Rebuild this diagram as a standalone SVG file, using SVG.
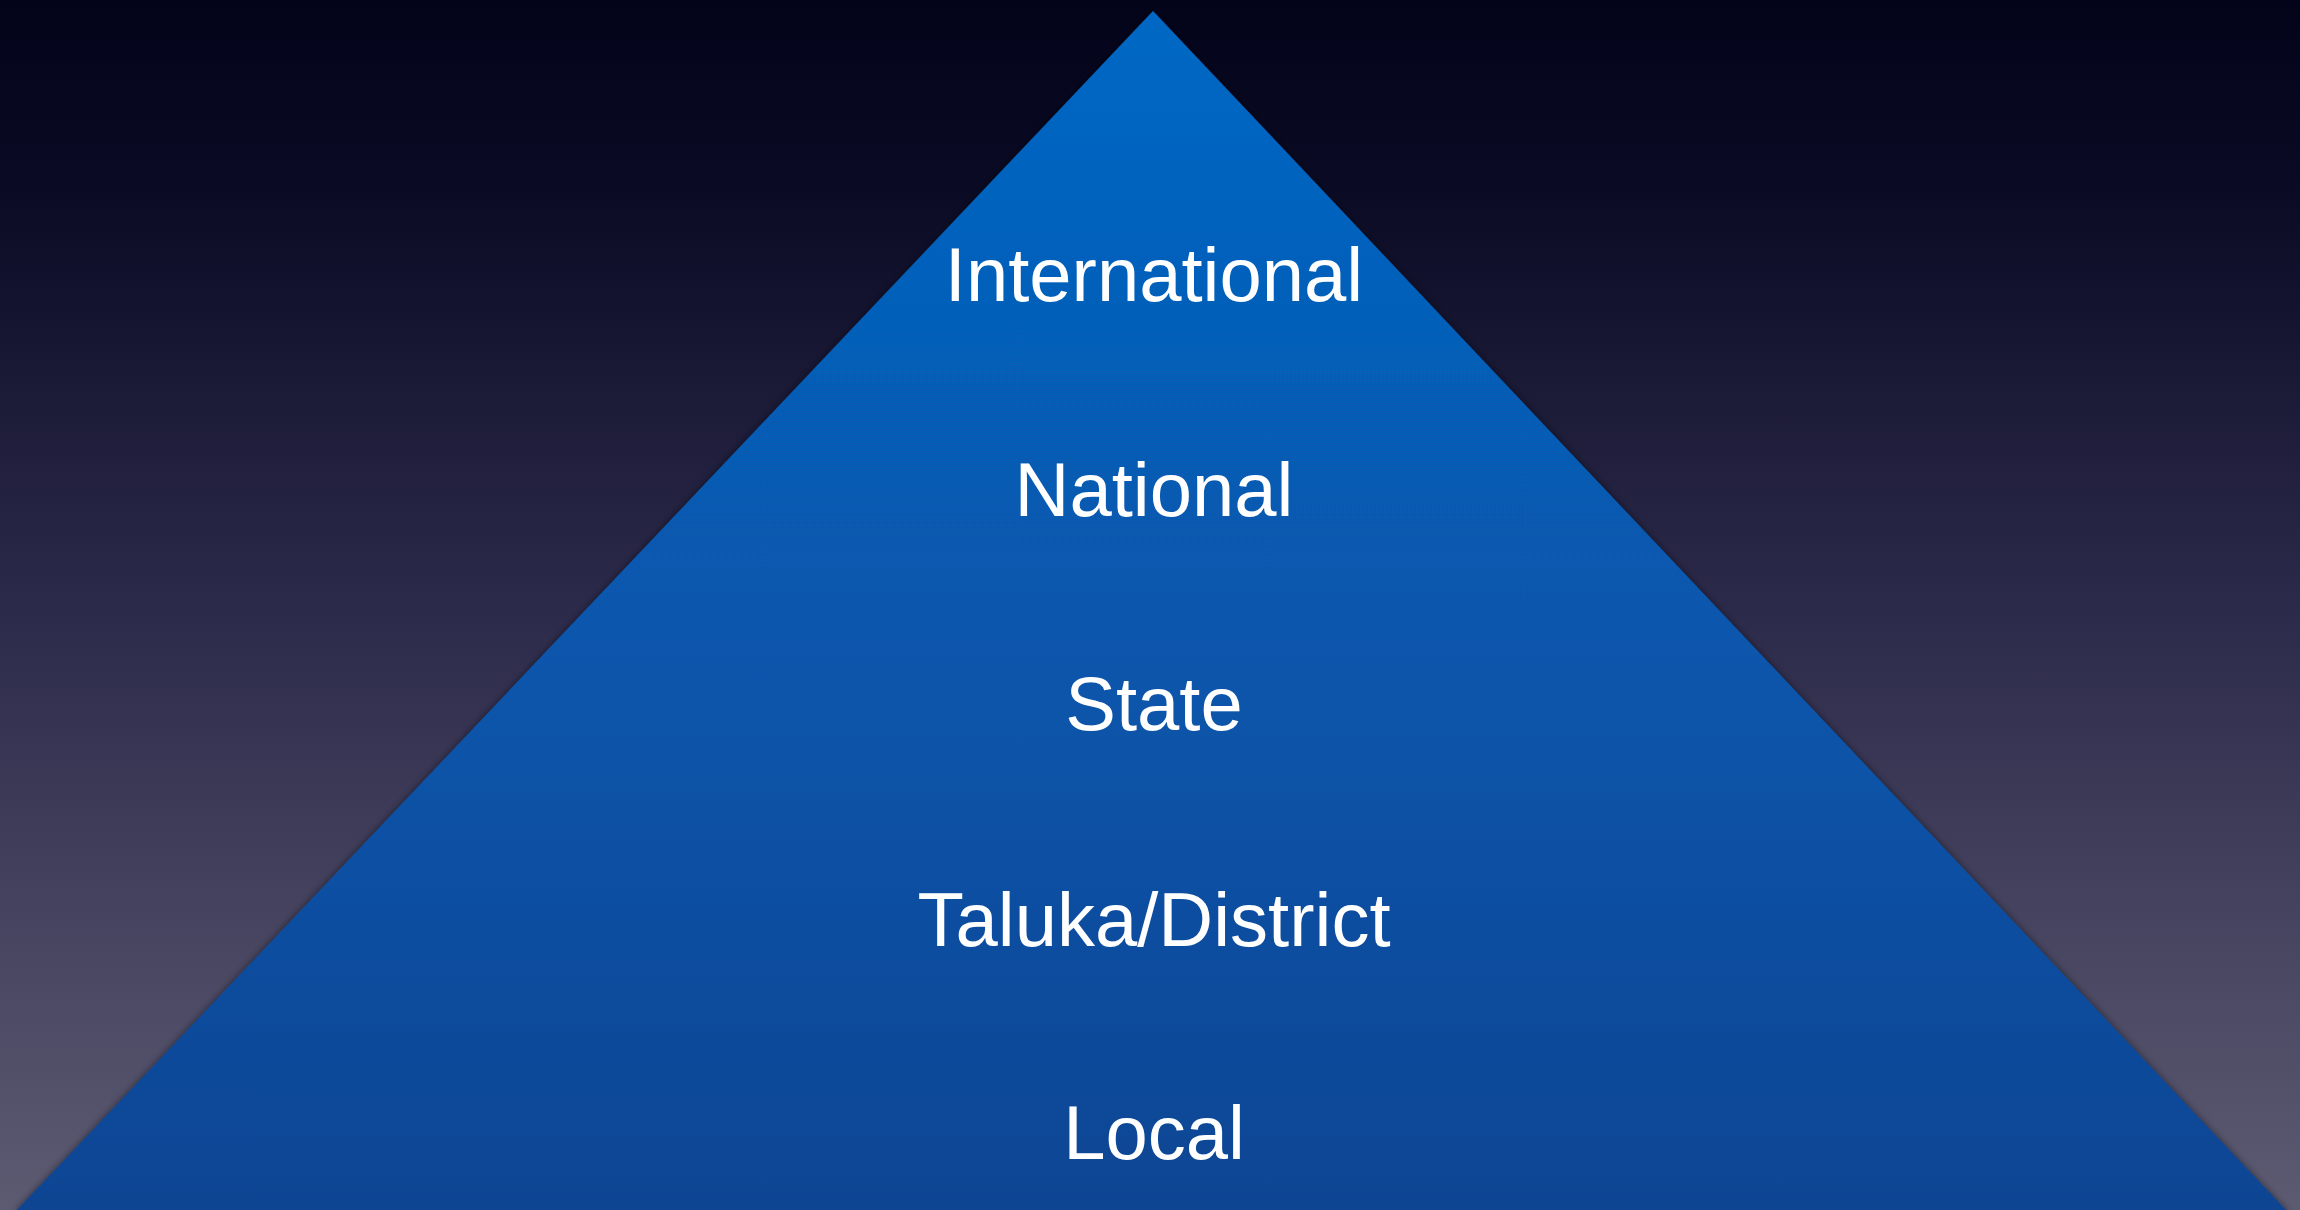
<svg xmlns="http://www.w3.org/2000/svg" width="2300" height="1210" viewBox="0 0 2300 1210">
  <defs>
    <linearGradient id="bg" x1="0" y1="0" x2="0" y2="1">
      <stop offset="0" stop-color="#03031a"/>
      <stop offset="0.15" stop-color="#0a0a24"/>
      <stop offset="0.5" stop-color="#2c2a4a"/>
      <stop offset="1" stop-color="#5d5b72"/>
    </linearGradient>
    <linearGradient id="tri" x1="0" y1="0" x2="0" y2="1">
      <stop offset="0" stop-color="#0568c4"/>
      <stop offset="0.5" stop-color="#0757ae"/>
      <stop offset="1" stop-color="#0b4593"/>
    </linearGradient>
    <filter id="shadow" x="-5%" y="-5%" width="110%" height="110%">
      <feGaussianBlur in="SourceAlpha" stdDeviation="4"/>
      <feOffset dx="0" dy="2" result="b"/>
      <feFlood flood-color="#000000" flood-opacity="0.7"/>
      <feComposite in2="b" operator="in"/>
      <feMerge><feMergeNode/><feMergeNode in="SourceGraphic"/></feMerge>
    </filter>
  </defs>
  <style>
    .lbl { font-family: "Liberation Sans", Arial, Helvetica, sans-serif; font-size: 76px; fill: #ffffff; text-anchor: middle; }
  </style>
  <rect x="0" y="0" width="2300" height="1210" fill="url(#bg)"/>
  <g id="pyramid">
    <polygon points="1153,11 2288,1212 15,1212" fill="url(#tri)" filter="url(#shadow)"/>
  </g>
  <g id="connectors"/>
  <g id="level-international"><text class="lbl" x="1154" y="301">International</text></g>
  <g id="level-national"><text class="lbl" x="1154" y="516">National</text></g>
  <g id="level-state"><text class="lbl" x="1154" y="730">State</text></g>
  <g id="level-district"><text class="lbl" x="1154" y="946">Taluka/District</text></g>
  <g id="level-local"><text class="lbl" x="1154" y="1159">Local</text></g>
</svg>
